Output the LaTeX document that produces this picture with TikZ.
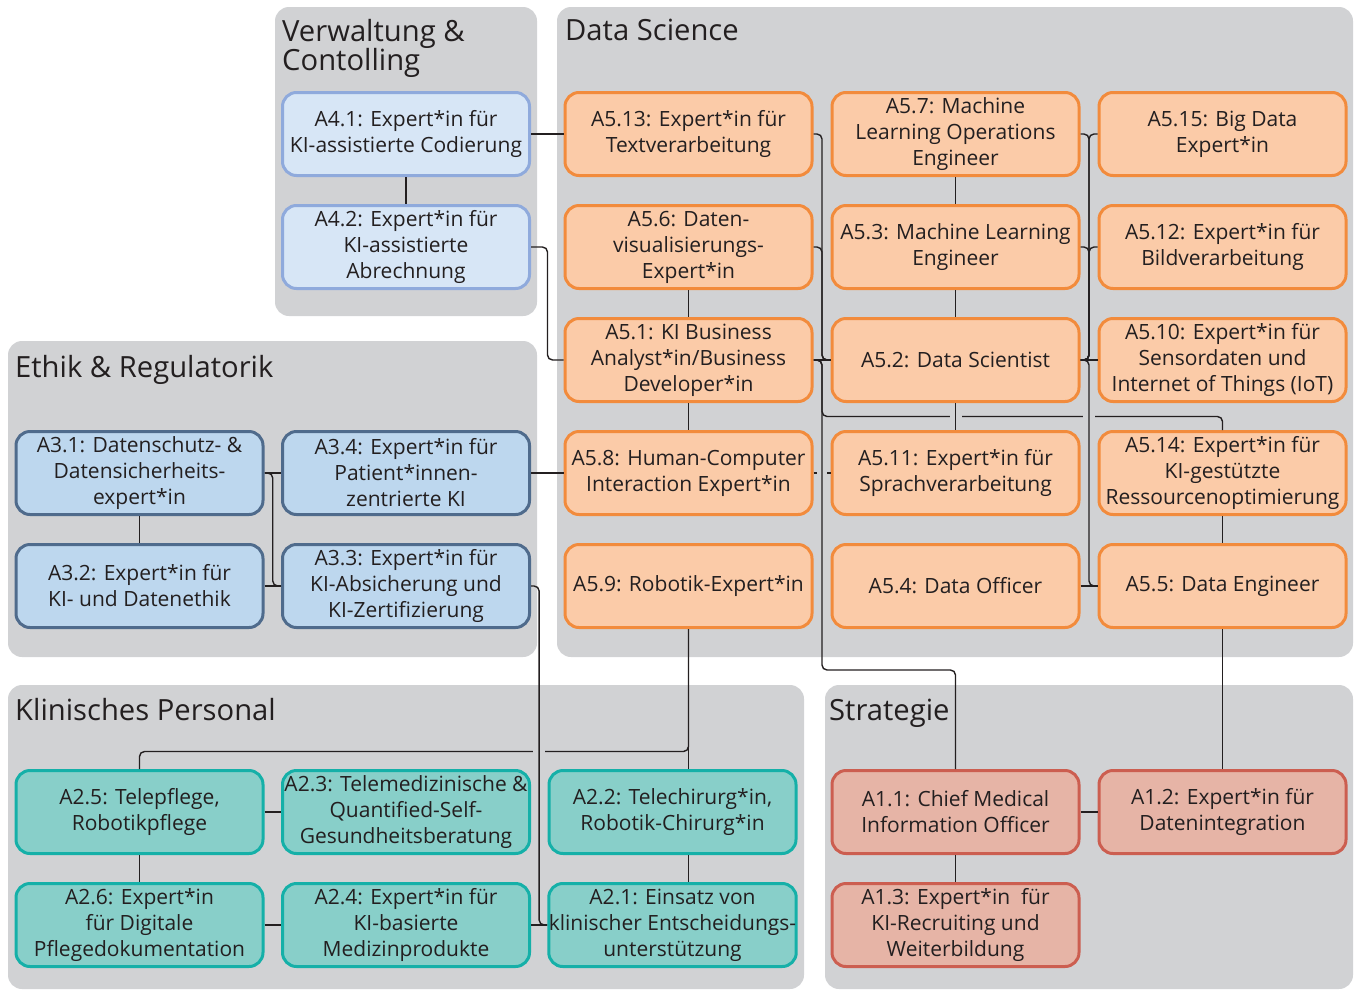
\documentclass[tikz,border=0pt]{standalone}
\usepackage{fontspec}
\setmainfont{Open Sans}
\usetikzlibrary{calc}

\definecolor{panel}{HTML}{D1D2D4}
\definecolor{ink}{HTML}{231F20}
\definecolor{vwFill}{HTML}{D7E6F6}
\definecolor{vwLine}{HTML}{8FAADC}
\definecolor{etFill}{HTML}{BDD7EE}
\definecolor{etLine}{HTML}{4F6B8C}
\definecolor{dsFill}{HTML}{FBCBA8}
\definecolor{dsLine}{HTML}{F28B3C}
\definecolor{klFill}{HTML}{88CFC9}
\definecolor{klLine}{HTML}{15B0A8}
\definecolor{stFill}{HTML}{E6B4A6}
\definecolor{stLine}{HTML}{CC5E50}

\tikzset{
  role/.style={rectangle, rounded corners=14pt, line width=3pt,
    minimum width=247pt, minimum height=83pt, inner sep=0pt,
    align=center, text=ink, font=\fontsize{21}{26}\selectfont},
  vw/.style={role, fill=vwFill, draw=vwLine},
  et/.style={role, fill=etFill, draw=etLine},
  ds/.style={role, fill=dsFill, draw=dsLine},
  kl/.style={role, fill=klFill, draw=klLine},
  st/.style={role, fill=stFill, draw=stLine},
  group/.style={fill=panel, rounded corners=14pt},
  title/.style={anchor=base west, inner sep=0pt, text=ink,
    font=\fontsize{29.2}{30}\selectfont},
  link/.style={draw=ink, line width=1.4pt, rounded corners=5pt},
  gapmark/.style={draw=panel, line width=4pt},
}

\begin{document}
\begin{tikzpicture}[x=1pt, y=-1pt]
\useasboundingbox (0,0) rectangle (1354,991);
\clip (0,0) rectangle (1354,991);

% group panels
\fill[group] (275,7) rectangle (537,316);
\fill[group] (557,7) rectangle (1353,657);
\fill[group] (8,341) rectangle (537,657);
\fill[group] (8,685) rectangle (804,989);
\fill[group] (825,685) rectangle (1353,989);

% group titles
\node[title] (tVw1) at (282,41) {Verwaltung \&};
\node[title] (tVw2) at (282,70) {Contolling};
\node[title] (tDs) at (565,40) {Data Science};
\node[title] (tEt) at (15,377) {Ethik \& Regulatorik};
\node[title] (tKl) at (15,720) {Klinisches Personal};
\node[title] (tSt) at (829,720) {Strategie};

% Verwaltung & Controlling
\node[vw] (a41) at (406,134) {A4.1: Expert*in für\\KI-assistierte Codierung};
\node[vw] (a42) at (406,247) {A4.2: Expert*in für\\KI-assistierte\\Abrechnung};

% Data Science
\node[ds] (a513) at (688.5,134) {A5.13: Expert*in für\\Textverarbeitung};
\node[ds] (a57)  at (955.5,134) {A5.7: Machine\\Learning Operations\\Engineer};
\node[ds] (a515) at (1222.5,134) {A5.15: Big Data\\Expert*in};
\node[ds] (a56)  at (688.5,247) {A5.6: Daten-\\visualisierungs-\\Expert*in};
\node[ds] (a53)  at (955.5,247) {A5.3: Machine Learning\\Engineer};
\node[ds] (a512) at (1222.5,247) {A5.12: Expert*in für\\Bildverarbeitung};
\node[ds] (a51)  at (688.5,360) {A5.1: KI Business\\Analyst*in/Business\\Developer*in};
\node[ds] (a52)  at (955.5,360) {A5.2: Data Scientist};
\node[ds] (a510) at (1222.5,360) {A5.10: Expert*in für\\Sensordaten und\\Internet of Things (IoT)};
\node[ds] (a58)  at (688.5,473) {A5.8: Human-Computer\\Interaction Expert*in};
\node[ds] (a511) at (955.5,473) {A5.11: Expert*in für\\Sprachverarbeitung};
\node[ds] (a514) at (1222.5,473) {A5.14: Expert*in für\\KI-gestützte\\Ressourcenoptimierung};
\node[ds] (a59)  at (688.5,586) {A5.9: Robotik-Expert*in};
\node[ds] (a54)  at (955.5,586) {A5.4: Data Officer};
\node[ds] (a55)  at (1222.5,586) {A5.5: Data Engineer};

% Ethik & Regulatorik
\node[et] (a31) at (139.5,473) {A3.1: Datenschutz- \&\\Datensicherheits-\\expert*in};
\node[et] (a34) at (406,473) {A3.4: Expert*in für\\Patient*innen-\\zentrierte KI};
\node[et] (a32) at (139.5,586) {A3.2: Expert*in für\\KI- und Datenethik};
\node[et] (a33) at (406,586) {A3.3: Expert*in für\\KI-Absicherung und\\KI-Zertifizierung};

% Klinisches Personal
\node[kl] (a25) at (139.5,812) {A2.5: Telepflege,\\Robotikpflege};
\node[kl] (a23) at (406,812) {A2.3: Telemedizinische \&\\Quantified-Self-\\Gesundheitsberatung};
\node[kl] (a22) at (672.5,812) {A2.2: Telechirurg*in,\\Robotik-Chirurg*in};
\node[kl] (a26) at (139.5,925) {A2.6: Expert*in\\für Digitale\\Pflegedokumentation};
\node[kl] (a24) at (406,925) {A2.4: Expert*in für\\KI-basierte\\Medizinprodukte};
\node[kl] (a21) at (672.5,925) {A2.1: Einsatz von\\klinischer Entscheidungs-\\unterstützung};

% Strategie
\node[st] (a11) at (955.5,812) {A1.1: Chief Medical\\Information Officer};
\node[st] (a12) at (1222.5,812) {A1.2: Expert*in für\\Datenintegration};
\node[st] (a13) at (955.5,925) {A1.3: Expert*in\ \ für\\KI-Recruiting und\\Weiterbildung};

% bus lines and waypoints
\coordinate (busL) at ($(a513.east)!0.5!(a52.west)$);
\coordinate (busR) at ($(a57.east)!0.5!(a515.west)$);
\coordinate (busE) at ($(a31.east)!0.5!(a34.west)$);
\coordinate (busK) at ($(a33.east)!0.5!(a21.west)$);
\coordinate (rowMid) at ($(a52.south)!0.5!(a511.north)$);
\coordinate (klRail) at ($(a59.south)+(0,122.5)$);

% connectors that pass behind crossing lines
\draw[link] (a51.east) -- (busL |- a51.east) -- (busL |- rowMid) -| (a514.north);
\draw[link] (a58.east) -- (a511.west);
\draw[link] (a59.south) -- (a59.south |- klRail) -| (a25.north);

% breaks where those lines pass behind
\draw[gapmark] ($(a52.south |- rowMid)+(-6,0)$) -- ++(12,0);
\draw[gapmark] ($(busR |- rowMid)+(-6,0)$) -- ++(12,0);
\draw[gapmark] ($(busL |- a58.east)+(-5,0)$) -- ++(10,0);
\draw[gapmark] ($(busK |- klRail)+(-6,0)$) -- ++(12,0);

% Verwaltung links
\draw[link] (a41.south) -- (a42.north);
\draw[link] (a41.east) -- (a513.west);
\draw[link] (a42.east) -- ++(16.5,0) |- (a51.west);

% Data Science, left bus
\draw[link] (a513.east) -- (busL |- a513.east) |- (a52.west);
\draw[link] (a56.east) -- (busL |- a56.east) |- (a52.west);
\draw[link] (a51.east) -- (a52.west);
\draw[link] (a51.east) -- (busL |- a51.east) -- ++(0,310) -| (a11.north);

% Data Science, columns
\draw[link] (a56.south) -- (a51.north);
\draw[link] (a51.south) -- (a58.north);
\draw[link] (a57.south) -- (a53.north);
\draw[link] (a53.south) -- (a52.north);
\draw[link] (a52.south) -- (a511.north);
\draw[link] (a514.south) -- (a55.north);

% Data Science, right bus
\draw[link] (a57.east) -- (busR |- a57.east) |- (a52.east);
\draw[link] (a515.west) -- (busR |- a515.west) |- (a52.east);
\draw[link] (a53.east) -- (busR |- a53.east) |- (a52.east);
\draw[link] (a512.west) -- (busR |- a512.west) |- (a52.east);
\draw[link] (a510.west) -- (a52.east);
\draw[link] (a55.west) -- (busR |- a55.west) |- (a52.east);
\draw[link] (a54.east) -- (a55.west);

% Ethik links
\draw[link] (a31.south) -- (a32.north);
\draw[link] (a31.east) -- (a34.west);
\draw[link] (a32.east) -- (a33.west);
\draw[link] (a31.east) -- (busE |- a31.east) |- (a33.west);
\draw[link] (a34.east) -- (a58.west);
\draw[link] (a33.east) -- (busK |- a33.east) |- (a21.west);

% Klinisches links
\draw[link] (a59.south) -- (a59.south |- a22.north);
\draw[link] (a25.east) -- (a23.west);
\draw[link] (a25.south) -- (a26.north);
\draw[link] (a26.east) -- (a24.west);
\draw[link] (a24.east) -- (a21.west);
\draw[link] (a59.south |- a22.south) -- (a59.south |- a21.north);

% Strategie links
\draw[link] (a11.south) -- (a13.north);
\draw[link] (a11.east) -- (a12.west);
\draw[link] (a55.south) -- (a12.north);
\end{tikzpicture}
\end{document}
